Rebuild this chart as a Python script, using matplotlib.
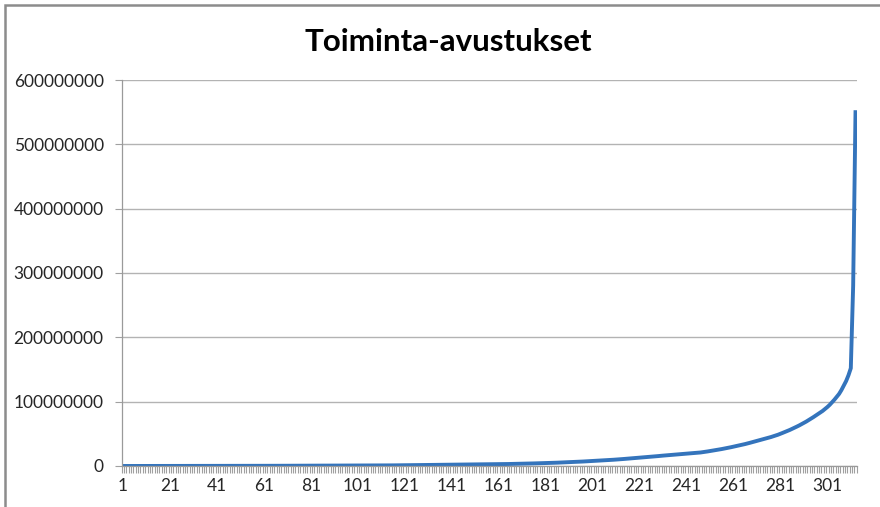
import matplotlib
matplotlib.use("Agg")
import matplotlib.pyplot as plt
from matplotlib.patches import Rectangle
from matplotlib.ticker import FixedLocator, FuncFormatter

# Toiminta-avustukset, sorted ascending (values in millions)
amounts_m = [
    0.01, 0.02, 0.02, 0.03, 0.03, 0.04, 0.04, 0.05, 0.05, 0.06,
    0.06, 0.07, 0.07, 0.08, 0.08, 0.08, 0.09, 0.09, 0.10, 0.10,
    0.10, 0.11, 0.11, 0.12, 0.12, 0.12, 0.13, 0.13, 0.14, 0.14,
    0.15, 0.15, 0.15, 0.16, 0.16, 0.17, 0.17, 0.18, 0.18, 0.19,
    0.19, 0.20, 0.20, 0.21, 0.21, 0.22, 0.22, 0.23, 0.23, 0.24,
    0.24, 0.25, 0.25, 0.26, 0.26, 0.27, 0.27, 0.28, 0.28, 0.29,
    0.29, 0.30, 0.30, 0.31, 0.31, 0.32, 0.32, 0.33, 0.33, 0.34,
    0.34, 0.35, 0.35, 0.36, 0.37, 0.37, 0.38, 0.39, 0.39, 0.40,
    0.41, 0.42, 0.43, 0.44, 0.45, 0.46, 0.47, 0.48, 0.49, 0.50,
    0.51, 0.52, 0.53, 0.54, 0.55, 0.56, 0.58, 0.59, 0.60, 0.62,
    0.63, 0.65, 0.66, 0.68, 0.70, 0.72, 0.74, 0.76, 0.78, 0.80,
    0.82, 0.85, 0.88, 0.90, 0.93, 0.96, 1.00, 1.03, 1.06, 1.10,
    1.13, 1.16, 1.20, 1.23, 1.26, 1.30, 1.33, 1.36, 1.40, 1.43,
    1.46, 1.50, 1.53, 1.56, 1.60, 1.63, 1.67, 1.70, 1.74, 1.78,
    1.82, 1.86, 1.90, 1.94, 1.98, 2.02, 2.06, 2.10, 2.15, 2.20,
    2.25, 2.30, 2.35, 2.40, 2.45, 2.50, 2.56, 2.62, 2.68, 2.74,
    2.80, 2.86, 2.93, 3.00, 3.07, 3.14, 3.21, 3.28, 3.36, 3.44,
    3.52, 3.60, 3.70, 3.80, 3.90, 4.00, 4.10, 4.20, 4.30, 4.40,
    4.50, 4.62, 4.75, 4.88, 5.00, 5.15, 5.30, 5.45, 5.60, 5.75,
    5.90, 6.05, 6.20, 6.38, 6.56, 6.75, 6.95, 7.15, 7.35, 7.55,
    7.75, 7.95, 8.15, 8.36, 8.58, 8.80, 9.02, 9.25, 9.48, 9.72,
    9.96, 10.2, 10.5, 10.8, 11.1, 11.4, 11.7, 12.0, 12.3, 12.6,
    12.9, 13.2, 13.5, 13.8, 14.1, 14.4, 14.7, 15.0, 15.4, 15.8,
    16.1, 16.4, 16.7, 17.0, 17.3, 17.6, 17.9, 18.2, 18.5, 18.8,
    19.1, 19.4, 19.7, 20.0, 20.3, 20.6, 21.0, 21.5, 22.0, 22.6,
    23.2, 23.8, 24.4, 25.0, 25.6, 26.3, 27.0, 27.7, 28.4, 29.2,
    30.0, 30.8, 31.6, 32.4, 33.2, 34.1, 35.0, 36.0, 37.0, 38.0,
    39.0, 40.0, 41.0, 42.0, 43.0, 44.0, 45.0, 46.2, 47.4, 48.6,
    50.0, 51.5, 53.0, 54.5, 56.0, 57.7, 59.4, 61.2, 63.0, 65.0,
    67.0, 69.0, 71.2, 73.5, 75.8, 78.2, 80.6, 83.0, 85.6, 88.5,
    91.6, 95.0, 99.0, 103.0, 107.5, 112.0, 118.0, 125.0, 132.0, 141.0,
    152.0, 280.0, 550.0,
]
amounts = [v * 1e6 for v in amounts_m]
positions = list(range(1, len(amounts) + 1))
y_ticks = [0, 100000000, 200000000, 300000000, 400000000, 500000000, 600000000]
x_labels = list(range(1, len(amounts) + 1, 20))

font = ["Lato", "DejaVu Sans"]
plt.rcParams["font.family"] = font

fig = plt.figure(figsize=(8.8, 5.07), dpi=100)
ax = fig.add_axes([0.1383, 0.0809, 0.8352, 0.7613])

ax.plot(positions, amounts, color="#3474BC", lw=2.8, solid_joinstyle="round")

ax.set_xlim(0.5, len(amounts) + 0.5)
ax.set_ylim(0, 600000000)

ax.yaxis.set_major_locator(FixedLocator(y_ticks))
ax.yaxis.set_major_formatter(FuncFormatter(lambda v, p: f"{int(v)}"))
ax.grid(axis="y", color="#B3B3B3", lw=1.0)
ax.set_axisbelow(True)

ax.xaxis.set_major_locator(FixedLocator(x_labels))
ax.xaxis.set_minor_locator(FixedLocator([p + 0.5 for p in range(0, len(amounts) + 1)]))
ax.tick_params(axis="x", which="major", length=0, pad=9, labelsize=12.5, labelcolor="#262626")
ax.tick_params(axis="x", which="minor", length=5, width=0.8, color="#A0A0A0")
ax.tick_params(axis="y", length=5, width=0.8, color="#A0A0A0", pad=8,
               labelsize=12.5, labelcolor="#262626")

for side in ("top", "right"):
    ax.spines[side].set_visible(False)
for side in ("left", "bottom"):
    ax.spines[side].set_color("#9A9A9A")
    ax.spines[side].set_linewidth(0.9)

fig.text(0.51, 0.918, "Toiminta-avustukset", ha="center", va="center",
         fontsize=22.5, fontweight="bold", color="black")

# chart area border
fig.patches.append(Rectangle((5.0 / 880, -0.1), 1.2, 1.1 - 4.5 / 507,
                             transform=fig.transFigure, fill=False,
                             edgecolor="#8C8C8C", lw=1.8))

fig.savefig("out.png", dpi=100)
